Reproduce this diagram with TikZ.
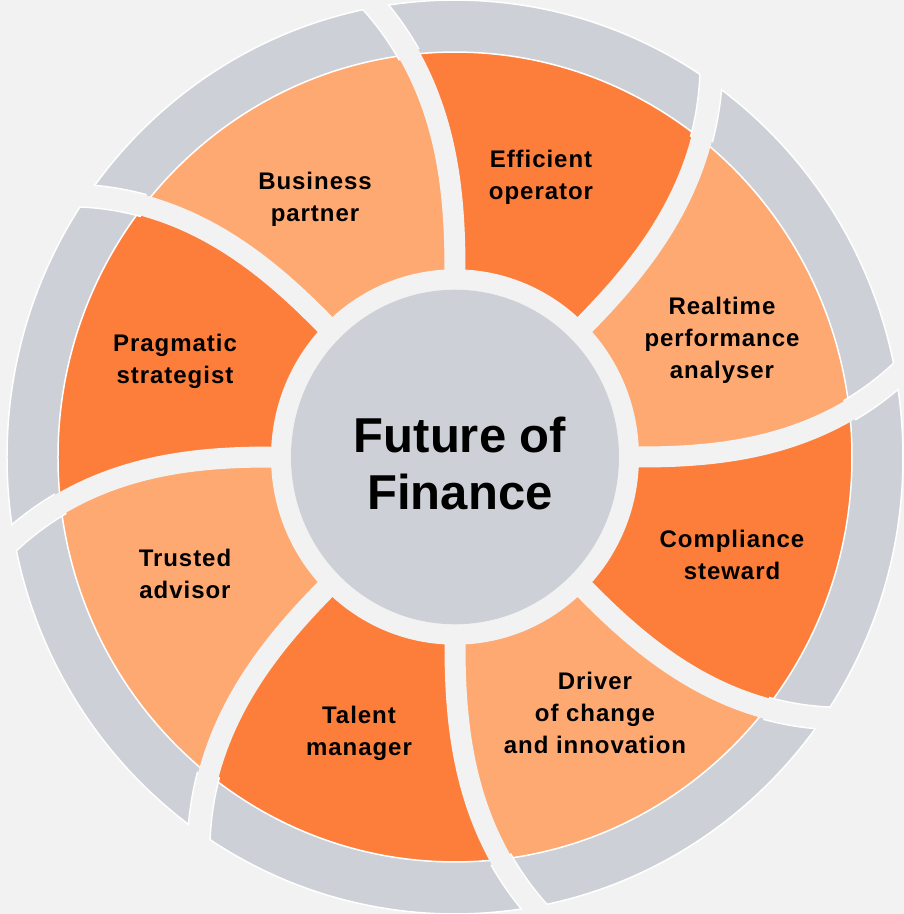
\documentclass[tikz,border=0pt]{standalone}
\usepackage{fontspec}
\setmainfont{Liberation Sans}
\newfontfamily\petalfont[LetterSpace=4]{Liberation Sans}
\usepackage{xcolor}
\usepackage{tikz}

\definecolor{paper}{HTML}{F2F2F2}
\definecolor{ringgrey}{HTML}{CDD1D7}
\definecolor{darkorange}{HTML}{FD7E3B}
\definecolor{lightorange}{HTML}{FEA972}

\begin{document}
\begin{tikzpicture}[
			x=1pt, y=1pt,
			declare function={swirl(\r)=1.46*((\r-184)/100)^2;},
			gap/.style={draw=paper, line width=21pt},
			rim/.style={draw=white, line width=1.5pt},
			role/.style={font=\petalfont\bfseries\fontsize{24}{32}\selectfont, align=center},
			hub/.style={font=\bfseries\fontsize{49}{57}\selectfont, align=center}]
	\useasboundingbox (-455,-457) rectangle (449,457);
	\clip (-455,-457) rectangle (449,457);
	\fill[paper] (-455,-457) rectangle (449,457);
	\begin{scope}[yscale=1.02]
		\fill[ringgrey] (0,0) circle (448);
		\draw[rim] (0,0) circle (448);
		% eight swirled petals
		\foreach \a/\col in {0/lightorange, 45/darkorange, 90/lightorange, 135/darkorange,
				180/lightorange, 225/darkorange, 270/lightorange, 315/darkorange} {
			\fill[\col] plot[domain=180:397, samples=25] ({\a+swirl(\x)}:\x)
				arc[start angle={\a+swirl(397)}, end angle={\a+45+swirl(397)}, radius=397]
				-- plot[domain=397:180, samples=25] ({\a+45+swirl(\x)}:\x) -- cycle;
		}
		\begin{scope}
			\clip (0,0) circle (448.75);
			\foreach \a in {0,45,...,315}
				\draw[white, line width=24pt] plot[domain=397:470, samples=15] ({\a+swirl(\x)}:\x);
		\end{scope}
		\draw[rim] (0,0) circle (397);
		\foreach \a in {0,45,...,315}
			\draw[gap] plot[domain=175:470, samples=40] ({\a+swirl(\x)}:\x);
		\fill[paper] (0,0) circle (184);
		\fill[ringgrey] (0,0) circle (164);
	\end{scope}
	\node[hub] (future) at (5,-6) {Future of\\Finance};
	\node[role] (efficient) at (86,280) {Efficient\\operator};
	\node[role] (business) at (-140,258) {Business\\partner};
	\node[role] (realtime) at (267,117) {Realtime\\performance\\analyser};
	\node[role] (pragmatic) at (-280,96) {Pragmatic\\strategist};
	\node[role] (compliance) at (277,-98) {Compliance\\steward};
	\node[role] (trusted) at (-270,-117) {Trusted\\advisor};
	\node[role] (talent) at (-96,-276) {Talent\\manager};
	\node[role] (driver) at (140,-256) {Driver\\of change\\and innovation};
\end{tikzpicture}
\end{document}
